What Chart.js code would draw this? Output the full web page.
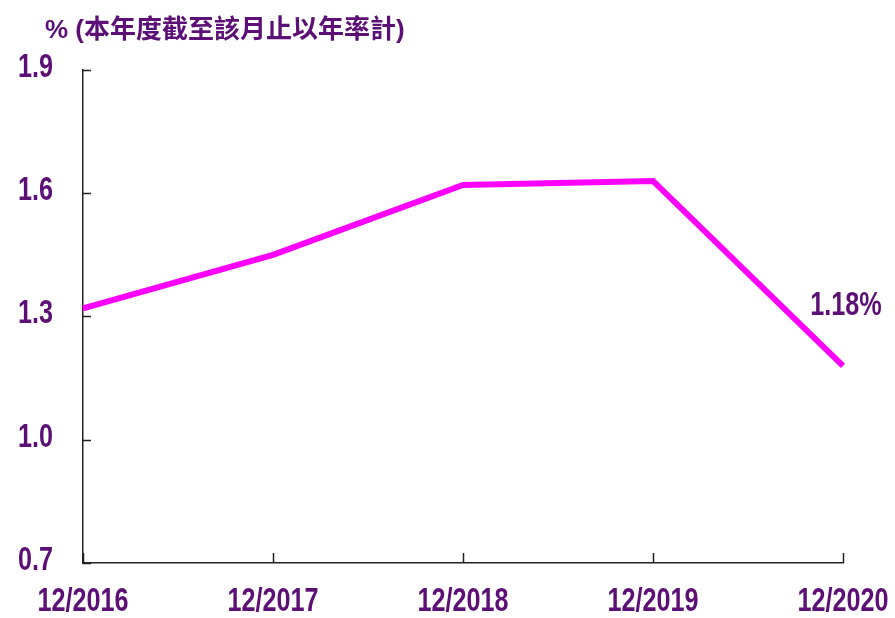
<!DOCTYPE html>
<html>
<head>
<meta charset="utf-8">
<script src="https://cdn.jsdelivr.net/npm/chart.js@4.4.1/dist/chart.umd.min.js"></script>
<style>
  html,body{margin:0;padding:0;background:#fff;}
  #wrap{width:895px;height:618px;}
</style>
</head>
<body>
<div id="wrap"><canvas id="rate-chart" width="895" height="618"></canvas></div>
<script>
// chart data
const categories=['12/2016','12/2017','12/2018','12/2019','12/2020'];
const rateValues=[1.32,1.45,1.62,1.63,1.18];
const yTickValues=[0.7,1.0,1.3,1.6,1.9];
const headerText='% (本年度截至該月止以年率計)';
const endLabel='1.18%';

const PURPLE='#5c0f75';
const AXIS='#222222';
const LABEL_FONT="'Liberation Sans','Arial',sans-serif";
const NARROW_X=0.84, NARROW_Y=1.08; // no narrow face installed, squeeze the labels by hand

function narrowText(ctx,txt,x,y){
  ctx.save();
  ctx.translate(x,y);
  ctx.scale(NARROW_X,NARROW_Y);
  ctx.fillText(txt,0,0);
  ctx.restore();
}

// inward tick marks, tick labels, header and end label
const decorPlugin={
  id:'decor',
  afterDraw(chart){
    const ctx=chart.ctx, x=chart.scales.x, y=chart.scales.y;
    const area=chart.chartArea;
    ctx.save();
    ctx.strokeStyle=AXIS;
    ctx.lineWidth=1.5;
    ctx.beginPath();
    y.ticks.forEach((t,i)=>{
      const py=Math.round(y.getPixelForTick(i))+0.5;
      ctx.moveTo(area.left,py);ctx.lineTo(area.left+8,py);
    });
    x.ticks.forEach((t,i)=>{
      const px=Math.round(x.getPixelForTick(i))+0.5;
      ctx.moveTo(px,area.bottom);ctx.lineTo(px,area.bottom-10);
    });
    ctx.stroke();

    ctx.fillStyle=PURPLE;
    ctx.textBaseline='middle';
    ctx.font="bold 30px "+LABEL_FONT;
    ctx.textAlign='right';
    y.ticks.forEach((t,i)=>{
      narrowText(ctx,Number(t.value).toFixed(1),area.left-30,y.getPixelForTick(i)-2);
    });
    ctx.textAlign='center';
    x.ticks.forEach((t,i)=>{
      narrowText(ctx,categories[t.value],x.getPixelForTick(i),area.bottom+39);
    });

    const last=rateValues.length-1;
    const lx=x.getPixelForValue(last), ly=y.getPixelForValue(rateValues[last]);
    narrowText(ctx,endLabel,lx+3,ly-60);

    ctx.font="bold 26px "+LABEL_FONT+",'Noto Sans CJK TC'";
    ctx.textAlign='left';
    ctx.fillText(headerText,45,31);
    ctx.restore();
  }
};

new Chart(document.getElementById('rate-chart').getContext('2d'),{
  type:'line',
  data:{labels:categories,datasets:[{data:rateValues,borderColor:'#ff00ff',borderWidth:6,
    pointRadius:0,tension:0,borderJoinStyle:'miter',fill:false}]},
  options:{responsive:false,animation:false,
    layout:{padding:{top:70,right:52,left:0,bottom:0}},
    plugins:{legend:{display:false},tooltip:{enabled:false}},
    scales:{
      x:{offset:false,
        grid:{display:false,drawTicks:false},
        border:{display:true,color:AXIS,width:1.5},
        ticks:{display:false,autoSkip:false},
        afterFit(s){s.height=55;s.paddingLeft=0;s.paddingRight=0;}},
      y:{min:0.7,max:1.9,
        afterBuildTicks(s){s.ticks=yTickValues.map(v=>({value:v}));},
        grid:{display:false,drawTicks:false},
        border:{display:true,color:AXIS,width:1.5},
        ticks:{display:false},
        afterFit(s){s.width=83;s.paddingTop=0;s.paddingBottom=0;}}
    }
  },
  plugins:[decorPlugin]
});
</script>
</body>
</html>
